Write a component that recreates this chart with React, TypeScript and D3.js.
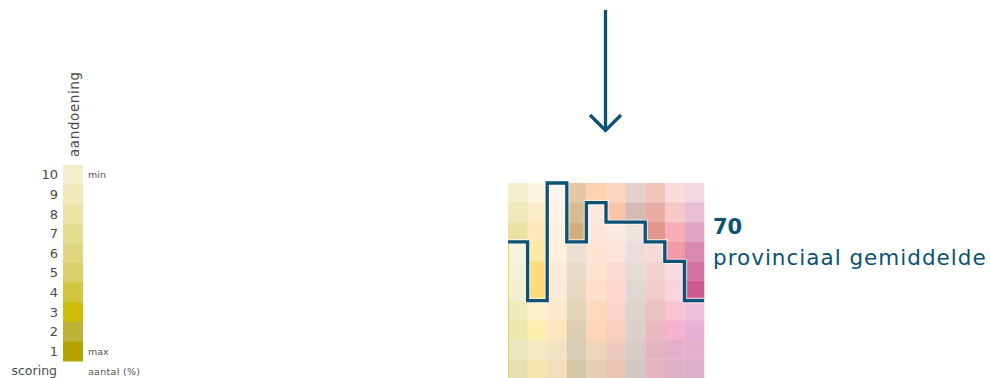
import React from "react";
import * as d3 from "d3";

// ---- Data ----
const scoreLevels = [10, 9, 8, 7, 6, 5, 4, 3, 2, 1];
const scoreColors = [
  "#f3efcc", "#efe8b8", "#ebe2a3", "#e6dc90", "#e0d67f",
  "#dbcf69", "#d4c53f", "#cdbc0a", "#beb236", "#b5a400",
];
const columns = ["c0", "c1", "c2", "c3", "c4", "c5", "c6", "c7", "c8", "c9"];
const rows = ["r0", "r1", "r2", "r3", "r4", "r5", "r6", "r7", "r8", "r9"];
// cell colours, one array per column, top row first
const cellColors = [
  ["#f3efcc", "#efe8b8", "#ebe2a2", "#f6f2dc", "#f5f0d8", "#f3efd0", "#f0ebbc", "#ece8ad", "#ebe5c0", "#e5e0ae"],
  ["#fdf5dd", "#fdeccc", "#fde8b8", "#fde8a6", "#fddc80", "#fedc7a", "#fdf0cc", "#fdeeb0", "#f7e8c4", "#f5e6b0"],
  ["#fff5ee", "#fff2e6", "#fef0e0", "#fff0dc", "#fdebd5", "#fdebd5", "#fde8cc", "#fde5c0", "#f5e1c3", "#f3ddba"],
  ["#e2c8a5", "#d8bb90", "#d1ae7c", "#ebe1d2", "#e8dcc8", "#e6d8c2", "#e3d5b9", "#dcceb0", "#d9cdb5", "#d5c6a8"],
  ["#fed2ac", "#fde8dc", "#fde6d8", "#fde4d2", "#fde2cc", "#fde0cc", "#fdd8bc", "#fdd6b8", "#f0d6b8", "#e8ceb0"],
  ["#fdd6c0", "#fac4a5", "#fce8e0", "#fce4da", "#fcdcd0", "#fcd8cc", "#fbd6c8", "#f9cfbd", "#eecbbc", "#e8c5b5"],
  ["#e2d1cc", "#d5bab5", "#ece4e0", "#e9dedd", "#e7dbda", "#e2d5d5", "#dfd3d2", "#dccfcd", "#d8cac8", "#d3c7c5"],
  ["#f0c4b8", "#e8aca2", "#e0968a", "#f5dad8", "#f2d2d0", "#f0cccc", "#ecc2c2", "#eab8be", "#e4b5c0", "#e4b4c0"],
  ["#fadada", "#f8c7cc", "#f6aeb8", "#f499a6", "#fadae0", "#fad4dc", "#f9c4d2", "#f6b3cf", "#e4b0c8", "#deb0c4"],
  ["#f2d8e2", "#eabfd2", "#e0a5c2", "#d989b0", "#d374a0", "#cc5c90", "#ecc0d8", "#e8b0d4", "#e4b0cc", "#deb0c8"],
];
// provincial average: row boundary index per column
const averageLevel = [3, 6, 0, 3, 1, 2, 2, 3, 4, 6];
const averageValue = "70";
const averageLabel = "provinciaal gemiddelde";

const BLUE = "#0b5275";
const FONT = "'DejaVu Sans', 'Noto Sans', sans-serif";

export default function App() {
  const W = 991, H = 378;

  const legendY = d3.scaleBand<number>().domain(scoreLevels).range([165, 361]);
  const legendX = 63, legendW = 20;

  const x = d3.scaleBand<string>().domain(columns).range([508, 704]);
  const y = d3.scaleBand<string>().domain(rows).range([183, 379]);
  const bw = x.bandwidth();
  const bh = y.bandwidth();
  const yb = (i: number) => 183 + i * bh;

  // stepped outline
  const pts: [number, number][] = [];
  averageLevel.forEach((lvl, i) => {
    const x0 = x(columns[i])!;
    pts.push([x0, yb(lvl)]);
    pts.push([x0 + bw, yb(lvl)]);
  });
  const line = d3.line<[number, number]>();
  const pathD = line(pts)!;

  return (
    <svg
      width={W}
      height={H}
      style={{ position: "absolute", left: 0, top: 0, background: "#fff" }}
      fontFamily={FONT}
    >
      {/* legend */}
      {scoreLevels.map((s, i) => (
        <g key={s}>
          <rect x={legendX} y={legendY(s)!} width={legendW} height={legendY.bandwidth() + 0.5} fill={scoreColors[i]} />
          <text x={58} y={legendY(s)! + legendY.bandwidth() / 2 + 4.5} textAnchor="end" fontSize={13} fill="#4a4a4a">
            {s}
          </text>
        </g>
      ))}
      <text x={88} y={178} fontSize={9.5} fill="#555">min</text>
      <text x={88} y={355} fontSize={9.5} fill="#555">max</text>
      <text x={57} y={375} textAnchor="end" fontSize={12.5} fill="#4a4a4a">scoring</text>
      <text x={88} y={375} fontSize={9.5} fill="#555" letterSpacing={0.3}>aantal (%)</text>
      <text transform="translate(79,157) rotate(-90)" fontSize={13.5} fill="#4a4a4a" letterSpacing={0.6}>aandoening</text>

      {/* heatmap */}
      {columns.map((c, ci) =>
        rows.map((r, ri) => (
          <rect key={c + r} x={x(c)!} y={y(r)!} width={bw + 0.3} height={bh + 0.3} fill={cellColors[ci][ri]} />
        ))
      )}
      <line x1={508.5} x2={508.5} y1={yb(averageLevel[0])} y2={H} stroke="#e2d15a" strokeWidth={1} />
      <path d={pathD} fill="none" stroke="#fff" strokeOpacity={0.6} strokeWidth={5.5} strokeLinejoin="miter" />
      <path d={pathD} fill="none" stroke={BLUE} strokeWidth={3.3} strokeLinejoin="miter" />

      {/* average label */}
      <text x={713} y={234} fontSize={21} fontWeight={700} fill={BLUE}>{averageValue}</text>
      <text x={713} y={265} fontSize={21.5} fill={BLUE} letterSpacing={1}>{averageLabel}</text>

      {/* arrow */}
      <line x1={605.5} x2={605.5} y1={10} y2={130} stroke={BLUE} strokeWidth={3.3} />
      <polyline points="590,115 605.5,130.5 621,115" fill="none" stroke={BLUE} strokeWidth={3.3} />
    </svg>
  );
}
